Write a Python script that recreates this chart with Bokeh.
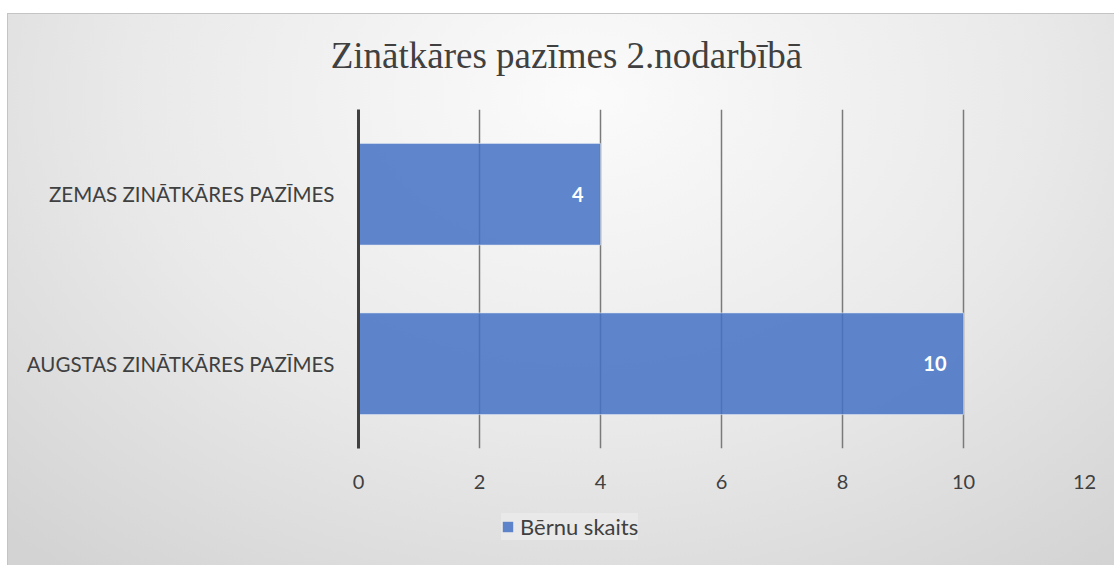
from bokeh.plotting import figure
from bokeh.layouts import column
from bokeh.models import ColumnDataSource, Legend, LegendItem, LabelSet, FactorRange, Range1d, FixedTicker, Div
from bokeh.core.properties import value
from bokeh.embed import file_html
from bokeh.resources import INLINE

categories = ["AUGSTAS ZINĀTKĀRES PAZĪMES", "ZEMAS ZINĀTKĀRES PAZĪMES"]
values = [10, 4]
series_name = "Bērnu skaits"
title_text = "Zinātkāres pazīmes 2.nodarbībā"
x_ticks = [0, 2, 4, 6, 8, 10, 12]

BAR_FILL = "#4472C4"
BAR_ALPHA = 0.85
BAR_LINE = "#dfe6f3"
TEXT = "#404040"

src = ColumnDataSource(dict(cat=categories, val=values, lab=[str(v) for v in values]))

title = Div(text=f'<div style="width:1107px;text-align:center;padding-left:10px;box-sizing:border-box;'
                 f'padding-top:23px;font-family:\'Liberation Serif\';font-size:37px;line-height:37px;'
                 f'color:{TEXT};white-space:nowrap;">{title_text}</div>',
            width=1107, height=95, margin=0)

p = figure(width=1107, height=397, output_backend="svg", toolbar_location=None,
           y_range=FactorRange(factors=categories, range_padding=0),
           x_range=Range1d(0, 12),
           min_border_left=350, min_border_right=31, min_border_top=0, min_border_bottom=58)
p.background_fill_alpha = 0
p.border_fill_alpha = 0
p.outline_line_color = None

r = p.hbar(y="cat", right="val", left=0, height=0.6, source=src,
           fill_color=BAR_FILL, fill_alpha=BAR_ALPHA, line_color=BAR_LINE, line_alpha=0.6, line_width=1)

lbl = LabelSet(x="val", y="cat", text="lab", source=src, x_offset=-17,
               text_align="right", text_baseline="middle", text_color="white",
               text_font=value("Lato"), text_font_style="bold", text_font_size="20px")
p.add_layout(lbl)

p.xaxis.ticker = FixedTicker(ticks=x_ticks)
p.xaxis.axis_line_color = None
p.xaxis.major_tick_line_color = None
p.xaxis.minor_tick_line_color = None
p.xaxis.major_label_text_font = "Lato"
p.xaxis.major_label_text_font_size = "20px"
p.xaxis.major_label_text_color = TEXT
p.xaxis.major_label_standoff = 20

p.yaxis.axis_line_color = TEXT
p.yaxis.axis_line_width = 3
p.yaxis.major_tick_line_color = None
p.yaxis.minor_tick_line_color = None
p.yaxis.major_label_text_font = "Lato"
p.yaxis.major_label_text_font_size = "20.5px"
p.yaxis.major_label_text_color = TEXT
p.yaxis.major_label_standoff = 18

p.ygrid.grid_line_color = None
p.xgrid.ticker = FixedTicker(ticks=x_ticks)
p.xgrid.grid_line_color = "#7a7a7a"
p.xgrid.grid_line_width = 1.5

# legend strip below the chart; its proxy bars have zero width and lie outside its view
p2 = figure(width=1107, height=60, output_backend="svg", toolbar_location=None,
            x_range=Range1d(100, 101), y_range=Range1d(100, 101),
            min_border_left=0, min_border_right=0, min_border_top=0, min_border_bottom=0)
p2.background_fill_alpha = 0
p2.border_fill_alpha = 0
p2.outline_line_color = None
p2.axis.visible = False
p2.grid.visible = False
r2 = p2.hbar(y="val", left="val", right="val", height=0.6, source=src,
             fill_color=BAR_FILL, fill_alpha=BAR_ALPHA, line_color=None)

legend = Legend(items=[LegendItem(label=series_name, renderers=[r2])],
                location=(143, 26), orientation="horizontal",
                label_text_font="Lato", label_text_font_size="22px", label_text_color=TEXT,
                glyph_width=13, glyph_height=13, label_standoff=6,
                padding=12, margin=0,
                background_fill_color="#e9e9e9", background_fill_alpha=1.0,
                border_line_color=None)
p2.add_layout(legend, "center")

layout = column(title, p, p2, spacing=0)
layout.margin = (13, 0, 0, 7)
layout.styles = {
    "background": "radial-gradient(ellipse 75% 110% at 52% 15%, #fbfbfb 0%, #e9e9e9 55%, #d3d3d3 100%)",
    "border-top": "1px solid #c4c4c4",
    "border-left": "1px solid #c4c4c4",
    "box-sizing": "border-box",
}

open("out.html", "w").write(file_html(layout, INLINE))
